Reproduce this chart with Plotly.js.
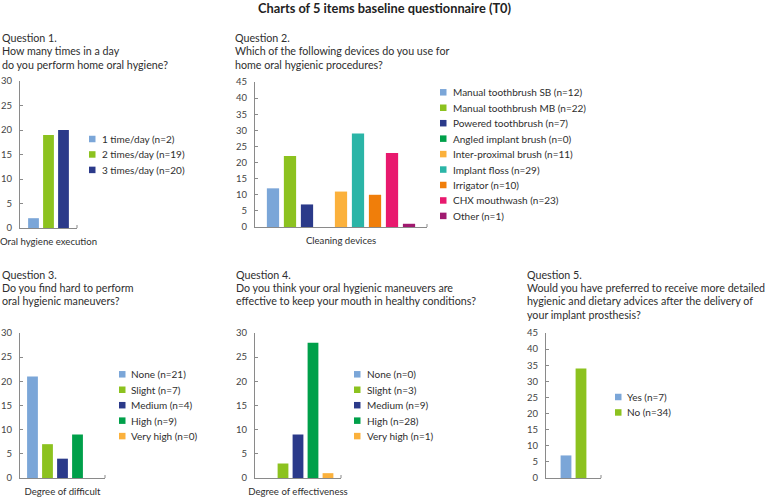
<!DOCTYPE html>
<html>
<head>
<meta charset="utf-8">
<script src="https://cdn.plot.ly/plotly-3.0.1.min.js"></script>
<style>html,body{margin:0;padding:0;background:#fff;}#chart{width:769px;height:497px;}</style>
</head>
<body>
<div id="chart"></div>
<script>
// ---------- data ----------
var chartTitle = "Charts of 5 items baseline questionnaire (T0)";

var q1Title = ["Question 1.", "How many times in a day", "do you perform home oral hygiene?"];
var q1Category = "Oral hygiene execution";
var q1Labels = ["1 time/day (n=2)", "2 times/day (n=19)", "3 times/day (n=20)"];
var q1Values = [2, 19, 20];

var q2Title = ["Question 2.", "Which of the following devices do you use for", "home oral hygienic procedures?"];
var q2Category = "Cleaning devices";
var q2Labels = ["Manual toothbrush SB (n=12)", "Manual toothbrush MB (n=22)", "Powered toothbrush (n=7)",
  "Angled implant brush (n=0)", "Inter-proximal brush (n=11)", "Implant floss (n=29)",
  "Irrigator (n=10)", "CHX mouthwash (n=23)", "Other (n=1)"];
var q2Values = [12, 22, 7, 0, 11, 29, 10, 23, 1];

var q3Title = ["Question 3.", "Do you find hard to perform", "oral hygienic maneuvers?"];
var q3Category = "Degree of difficult";
var q3Labels = ["None (n=21)", "Slight (n=7)", "Medium (n=4)", "High (n=9)", "Very high (n=0)"];
var q3Values = [21, 7, 4, 9, 0];

var q4Title = ["Question 4.", "Do you think your oral hygienic maneuvers are", "effective to keep your mouth in healthy conditions?"];
var q4Category = "Degree of effectiveness";
var q4Labels = ["None (n=0)", "Slight (n=3)", "Medium (n=9)", "High (n=28)", "Very high (n=1)"];
var q4Values = [0, 3, 9, 28, 1];

var q5Title = ["Question 5.", "Would you have preferred to receive more detailed", "hygienic and dietary advices after the delivery of", "your implant prosthesis?"];
var q5Category = " ";
var q5Labels = ["Yes (n=7)", "No (n=34)"];
var q5Values = [7, 34];

var yTickVals30 = [0, 5, 10, 15, 20, 25, 30];
var yTickVals45 = [0, 5, 10, 15, 20, 25, 30, 35, 40, 45];

// ---------- styling ----------
var W = 769, H = 497;
var C = {blue:"#7ba6d8", lgreen:"#8cc21f", navy:"#2b3a8a", green:"#00a04a", yellow:"#fbb13c",
         teal:"#2bb5a7", orange:"#f07e0a", pink:"#e8196e", purple:"#a01a6f"};
var pal5 = [C.blue, C.lgreen, C.navy, C.green, C.yellow];
var pal9 = [C.blue, C.lgreen, C.navy, C.green, C.yellow, C.teal, C.orange, C.pink, C.purple];
var FONT = "Lato, 'Noto Sans', sans-serif";
var TXT = "#2e2e2e";
var AX = "#8a8a8a";

function px(x){ return x / W; }
function py(y){ return 1 - y / H; }

// panel geometry (pixels): axis box left/right, top/bottom, category span, legend placement, title placement
var panels = [
  {cat:q1Category, labels:q1Labels, values:q1Values, colors:[C.blue, C.lgreen, C.navy], title:q1Title,
   l:20, r:77, t:81, b:228, ymax:30, ticks:yTickVals30, span:1.267,
   legX:89, legTextX:100, legY:139, titleX:1, titleY:37.3},
  {cat:q2Category, labels:q2Labels, values:q2Values, colors:pal9, title:q2Title,
   l:255, r:427, t:82, b:227, ymax:45, ticks:yTickVals45, span:1.124,
   legX:440, legTextX:451, legY:92.3, titleX:234, titleY:37.3},
  {cat:q3Category, labels:q3Labels, values:q3Values, colors:pal5, title:q3Title,
   l:20, r:105, t:333, b:478, ymax:30, ticks:yTickVals30, span:1.133,
   legX:119, legTextX:129, legY:374.3, titleX:1, titleY:274},
  {cat:q4Category, labels:q4Labels, values:q4Values, colors:pal5, title:q4Title,
   l:255, r:341, t:333, b:478, ymax:30, ticks:yTickVals30, span:1.147,
   legX:354, legTextX:365, legY:374.3, titleX:235, titleY:274},
  {cat:q5Category, labels:q5Labels, values:q5Values, colors:[C.blue, C.lgreen], title:q5Title,
   l:546, r:601, t:333, b:478, ymax:45, ticks:yTickVals45, span:1.833,
   legX:615, legTextX:625, legY:397, titleX:526, titleY:274}
];

var LEG_STEP = 15.45, LEG_SQ = 6.5, TITLE_STEP = 13.4;

var traces = [];
var layout = {
  width: W, height: H,
  margin: {l:0, r:0, t:0, b:0},
  paper_bgcolor: "#ffffff", plot_bgcolor: "rgba(0,0,0,0)",
  showlegend: false,
  barmode: "group", bargap: 0, bargroupgap: 0.28,
  font: {family: FONT, color: TXT, size: 10},
  title: {text: "<b>" + chartTitle + "</b>", x: 0.5, xanchor: "center", y: 1 - 8.5 / H, yanchor: "middle",
          font: {family: FONT, size: 12.8, color: "#222"}},
  annotations: [], shapes: []
};

panels.forEach(function(p, i){
  var n = i + 1;
  var xa = "x" + (n === 1 ? "" : n), ya = "y" + (n === 1 ? "" : n);
  var xk = "xaxis" + (n === 1 ? "" : n), yk = "yaxis" + (n === 1 ? "" : n);
  p.labels.forEach(function(lab, j){
    traces.push({type: "bar", x: [p.cat], y: [p.values[j]], name: lab, xaxis: xa, yaxis: ya,
      marker: {color: p.colors[j], line: {width: 0}}, hoverinfo: "name+y"});
  });
  layout[xk] = {domain: [px(p.l), px(p.r)], anchor: ya, type: "category",
    range: [-p.span / 2, p.span / 2], showline: true, linecolor: AX, linewidth: 1,
    ticks: "", showgrid: false, zeroline: false, fixedrange: true, ticklabelstandoff: 4,
    tickfont: {family: FONT, size: 9.6, color: TXT}};
  layout[yk] = {domain: [py(p.b), py(p.t)], anchor: xa, range: [0, p.ymax],
    tickmode: "array", tickvals: p.ticks, ticks: "inside", ticklen: 3, tickcolor: AX,
    showline: true, linecolor: AX, linewidth: 1, showgrid: false, zeroline: false, fixedrange: true,
    ticklabelstandoff: 5,
    tickfont: {family: FONT, size: 9.5, color: "#444"}};
  // small end tick at the right of the category axis
  layout.shapes.push({type: "line", xref: xa + " domain", yref: ya + " domain", x0: 1, x1: 1, y0: 0,
    y1: 3 / (p.b - p.t), line: {color: AX, width: 1}});
  // legend entries
  p.labels.forEach(function(lab, j){
    var cy = p.legY + j * LEG_STEP;
    layout.shapes.push({type: "rect", xref: "paper", yref: "paper",
      x0: px(p.legX), x1: px(p.legX + LEG_SQ), y0: py(cy + LEG_SQ / 2), y1: py(cy - LEG_SQ / 2),
      fillcolor: p.colors[j], line: {width: 0}});
    layout.annotations.push({xref: "paper", yref: "paper", x: px(p.legTextX), y: py(cy),
      xanchor: "left", yanchor: "middle", showarrow: false, text: lab,
      font: {family: FONT, size: 10, color: TXT}});
  });
  // question title lines
  p.title.forEach(function(line, k){
    layout.annotations.push({xref: "paper", yref: "paper", x: px(p.titleX), y: py(p.titleY + k * TITLE_STEP),
      xanchor: "left", yanchor: "middle", showarrow: false, text: line, xshift: -1,
      font: {family: FONT, size: 10.7, color: TXT}});
  });
});

Plotly.newPlot("chart", traces, layout, {displayModeBar: false, staticPlot: true});
</script>
</body>
</html>
